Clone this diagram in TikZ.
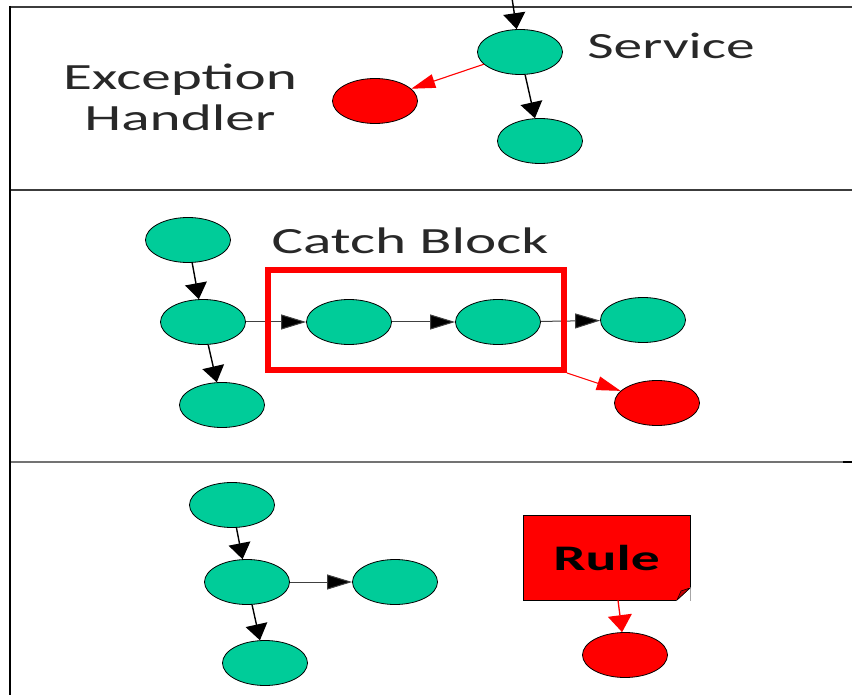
\documentclass[tikz,border=0pt]{standalone}
\usepackage{fontspec}
\setmainfont{Carlito}
\usetikzlibrary{shapes.geometric,arrows.meta}
\definecolor{nodegreen}{RGB}{0,204,153}
\definecolor{panelline}{RGB}{60,60,60}
\definecolor{textgray}{RGB}{40,40,40}
\begin{document}
\begin{tikzpicture}[x=1pt,y=-1pt,
  gnode/.style={ellipse,draw=black,line width=0.8pt,fill=nodegreen,minimum width=85pt,minimum height=45pt,inner sep=0pt},
  rnode/.style={gnode,fill=red},
  vconn/.style={line width=1.4pt,draw=black,-{Triangle[length=16pt,width=22pt]}},
  hconn/.style={line width=1pt,draw=black!75,-{Triangle[length=25pt,width=15pt,fill=black]}},
  redconn/.style={line width=1.1pt,draw=red,-{Triangle[length=24pt,width=14pt]}},
  redvconn/.style={line width=1.3pt,draw=red,-{Triangle[length=17pt,width=24pt]}},
  lbl/.style={font=\fontsize{37}{44}\selectfont,text=textgray,inner sep=0pt,anchor=base},
  catchbox/.style={draw=red,line width=6pt,minimum width=296pt,minimum height=100pt,inner sep=0pt},
  rulebox/.style={rectangle,draw=black,line width=0.6pt,fill=red,minimum width=167pt,minimum height=85pt,inner sep=0pt,font=\fontsize{36}{44}\selectfont\bfseries}
]
\useasboundingbox (0,0) rectangle (852,695);
% panel lines
\draw[panelline,line width=2pt] (10,7) -- (852,7);
\draw[panelline,line width=2.8pt] (10,190) -- (852,190);
\draw[black!55,line width=1.5pt] (10,462) -- (852,462);
\draw[black,line width=2pt] (843,462) -- (852,462);
\draw[black,line width=1.2pt] (10,6) -- (10,695);

% ---- top panel
\node[gnode] (s1) at (520,52) {};
\node[rnode] (h) at (375,101) {};
\node[gnode] (s2) at (540,141) {};
\coordinate (topin) at (512,-2);
\node[lbl] (exc1) at (180,90) {\scalebox{1.6}[1]{Exception}};
\node[lbl] (exc2) at (180,131) {\scalebox{1.6}[1]{Handler}};
\node[lbl] (svc) at (671,59) {\scalebox{1.55}[1]{Service}};
\draw[vconn] (topin) -- (s1);
\draw[redconn] (s1) -- (h);
\draw[vconn] (s1) -- (s2);

% ---- middle panel
\node[gnode] (a) at (188,240) {};
\node[gnode] (b) at (203,322) {};
\node[gnode] (c) at (222,405) {};
\node[gnode] (d) at (349,322) {};
\node[gnode] (e) at (498,322) {};
\node[gnode] (f) at (643,320) {};
\node[rnode] (g) at (657,403) {};
\node[lbl] (cbl) at (410,254) {\scalebox{1.6}[1]{Catch Block}};
\draw[vconn] (a) -- (b);
\draw[vconn] (b) -- (c);
\draw[hconn] (b) -- (d);
\draw[hconn] (d) -- (e);
\draw[hconn] (e) -- (f);
\node[catchbox] (cb) at (416,320) {};
\draw[redconn] (cb.south east) -- (g);

% ---- bottom panel
\node[gnode] (p) at (232,505) {};
\node[gnode] (q) at (247,582) {};
\node[gnode] (r) at (395,582) {};
\node[gnode] (t) at (265,663) {};
\draw[vconn] (p) -- (q);
\draw[hconn] (q) -- (r);
\draw[vconn] (q) -- (t);
\node[rulebox] (rule) at (606.5,557.5) {\scalebox{1.6}[1]{Rule}};
\fill[white] (690.5,587) -- (690.5,601) -- (676,601) -- cycle;
\draw[black,line width=0.6pt] (677,600) -- (690,588);
\filldraw[fill=red!75!black,draw=black,line width=0.5pt] (677,600) -- (681,591) -- (690,588) -- cycle;
\node[rnode] (l) at (625,655) {};
\draw[redvconn] (rule.south -| 618,0) -- (l);
\end{tikzpicture}
\end{document}
